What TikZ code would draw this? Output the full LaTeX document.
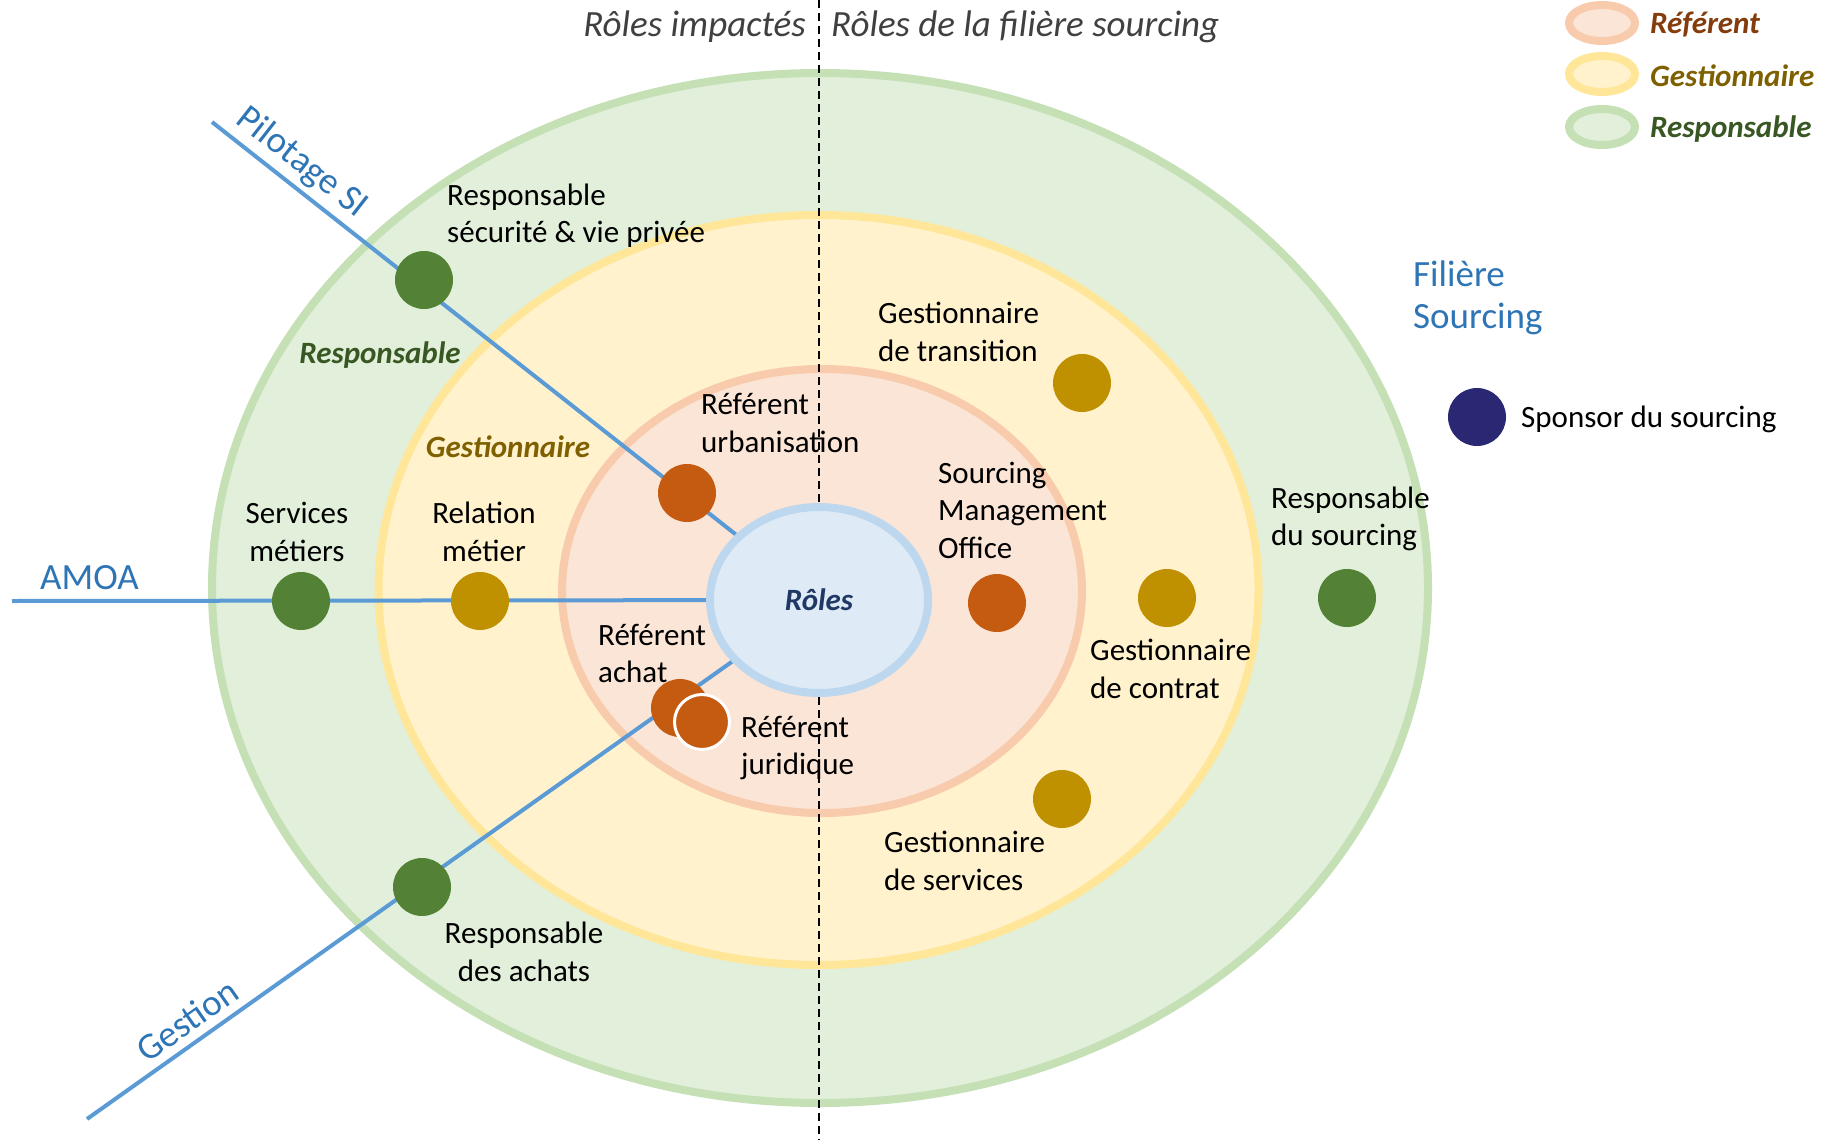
\documentclass[tikz,border=0pt]{standalone}
\usepackage{fontspec}
\setmainfont{Carlito}
\usetikzlibrary{shapes.geometric}
\definecolor{cRef}{HTML}{C55A11}
\definecolor{cGes}{HTML}{BF9000}
\definecolor{cRes}{HTML}{538135}
\definecolor{cNavy}{HTML}{2A2872}
\definecolor{cLine}{HTML}{5B9BD5}
\definecolor{cBlueT}{HTML}{2E75B6}
\definecolor{cTitle}{HTML}{404040}
\definecolor{cRefT}{HTML}{843C0C}
\definecolor{cGesT}{HTML}{7F6000}
\definecolor{cResT}{HTML}{385723}
\definecolor{cRolT}{HTML}{203864}
\definecolor{cGreenF}{HTML}{E2EFDA}
\definecolor{cGreenD}{HTML}{C5E0B4}
\definecolor{cYelF}{HTML}{FFF2CC}
\definecolor{cYelD}{HTML}{FFE699}
\definecolor{cPinkF}{HTML}{FBE5D6}
\definecolor{cPinkD}{HTML}{F8CBAD}
\definecolor{cBlueF}{HTML}{DEEBF7}
\definecolor{cBlueD}{HTML}{BDD7EE}
\pgfdeclarelayer{bg}
\pgfdeclarelayer{lines}
\pgfsetlayers{bg,lines,main}
\begin{document}
\begin{tikzpicture}[x=1pt,y=-1pt,
  lbl/.style={font=\fontsize{31pt}{37.5pt}\selectfont, inner sep=0pt, text=black},
  lblL/.style={lbl, anchor=west, align=left},
  lblC/.style={lbl, align=center},
  dot/.style={circle, minimum size=58pt, inner sep=0pt},
  dotR/.style={dot, fill=cRef},
  dotG/.style={dot, fill=cGes},
  dotP/.style={dot, fill=cRes},
  axisline/.style={draw=cLine, line width=4pt},
  bluelbl/.style={font=\fontsize{37pt}{42pt}\selectfont, text=cBlueT, inner sep=0pt},
  ring/.style={line width=8pt},
  ringlbl/.style={font=\fontsize{31pt}{37pt}\selectfont\bfseries\itshape, inner sep=0pt},
  titlelbl/.style={font=\fontsize{37pt}{42pt}\selectfont\itshape, text=cTitle, inner sep=0pt},
  legE/.style={ellipse, minimum width=66pt, minimum height=36pt, inner sep=0pt, line width=8pt},
  legT/.style={font=\fontsize{31pt}{37pt}\selectfont\bfseries\itshape, inner sep=0pt, anchor=west},
  dashline/.style={line width=2pt, dash pattern=on 8pt off 5pt}
]
\begin{pgfonlayer}{bg}
\fill[white] (0,0) rectangle (1828,1140);
\draw[ring, fill=cGreenF, draw=cGreenD] (820,588) ellipse [x radius=608pt, y radius=515pt];
\draw[ring, fill=cYelF, draw=cYelD] (818.5,590) ellipse [x radius=440pt, y radius=375pt];
\draw[ring, fill=cPinkF, draw=cPinkD] (822,591) ellipse [x radius=260pt, y radius=222pt];
\end{pgfonlayer}
\useasboundingbox (0,0) rectangle (1828,1140);

% central node
\node[ellipse, minimum width=218pt, minimum height=186pt, inner sep=0pt, line width=8pt,
      fill=cBlueF, draw=cBlueD, font=\fontsize{31pt}{37pt}\selectfont\bfseries\itshape, text=cRolT] (roles) at (819,600) {Rôles};

% role dots
\node[dotP] (sec) at (424,280) {};
\node[dotR] (urb) at (687,493) {};
\node[dotP] (serv) at (301,601) {};
\node[dotG] (rel) at (480,601) {};
\node[dotR] (ach) at (680,708) {};
\node[dotR, draw=white, line width=3pt, minimum size=55pt] (jur) at (702,722) {};
\node[dotP] (racht) at (422,887) {};
\node[dotG] (gtr) at (1082,383) {};
\node[dotR] (smo) at (997,603) {};
\node[dotG] (gco) at (1167,598) {};
\node[dotP] (rsrc) at (1347,598) {};
\node[dotG] (gsv) at (1062,799) {};
\node[dot, fill=cNavy] (spon) at (1477,417) {};

% axes
\coordinate (pil) at (212,122);
\coordinate (amoa) at (12,601);
\coordinate (gst) at (87,1119);
\begin{pgfonlayer}{lines}
\draw[axisline] (pil) -- (roles);
\draw[axisline] (amoa) -- (roles);
\draw[axisline] (gst) -- (roles);
\end{pgfonlayer}

% labels
\node[lblL] (tsec) at (447,215.5) {Responsable\\sécurité \& vie privée};
\node[lblL] (turb) at (701,423) {Référent\\urbanisation};
\node[lblC] (tserv) at (297,532) {Services\\métiers};
\node[lblC] (trel) at (484,532) {Relation\\métier};
\node[lblL] (tach) at (598,653.5) {Référent\\achat};
\node[lblL] (tjur) at (741,748) {Référent\\juridique};
\node[lblC] (tracht) at (524,952) {Responsable\\des achats};
\node[lblL] (tgtr) at (878,332) {Gestionnaire\\de transition};
\node[lblL] (tsmo) at (938,510) {Sourcing\\Management\\Office};
\node[lblL] (tgco) at (1090,669) {Gestionnaire\\de contrat};
\node[lblL] (trsrc) at (1271,519) {Responsable\\du sourcing};
\node[lblL] (tgsv) at (884,861) {Gestionnaire\\de services};
\node[lbl, anchor=west] (tspon) at (1521,419) {Sponsor du sourcing};

\node[bluelbl, anchor=west, align=left] (tfil) at (1413,298) {Filière\\Sourcing};
\node[bluelbl, anchor=west] (tamoa) at (40,578) {AMOA};
\node[bluelbl, rotate=-38] (tpil) at (302,163) {Pilotage SI};
\node[bluelbl, rotate=35] (tgest) at (187,1020) {Gestion};

\node[ringlbl, text=cResT] (rresp) at (380,355) {Responsable};
\node[ringlbl, text=cGesT] (rgest) at (508,447) {Gestionnaire};

% titles
\node[titlelbl, anchor=east] (t1) at (806,27) {Rôles impactés};
\node[titlelbl, anchor=west] (t2) at (831,27) {Rôles de la filière sourcing};

% legend
\node[legE, fill=cPinkF, draw=cPinkD] (lg1) at (1602,23) {};
\node[legT, text=cRefT] (lt1) at (1650,25) {Référent};
\node[legE, fill=cYelF, draw=cYelD] (lg2) at (1602,74) {};
\node[legT, text=cGesT] (lt2) at (1650,76) {Gestionnaire};
\node[legE, fill=cGreenF, draw=cGreenD] (lg3) at (1602,127) {};
\node[legT, text=cResT] (lt3) at (1650,129) {Responsable};

% dashed divider
\coordinate (dtop) at (819,0);
\coordinate (dbot) at (819,1140);
\draw[dashline] (dtop) -- (roles.north);
\draw[dashline] (roles.south) -- (dbot);
\end{tikzpicture}
\end{document}
